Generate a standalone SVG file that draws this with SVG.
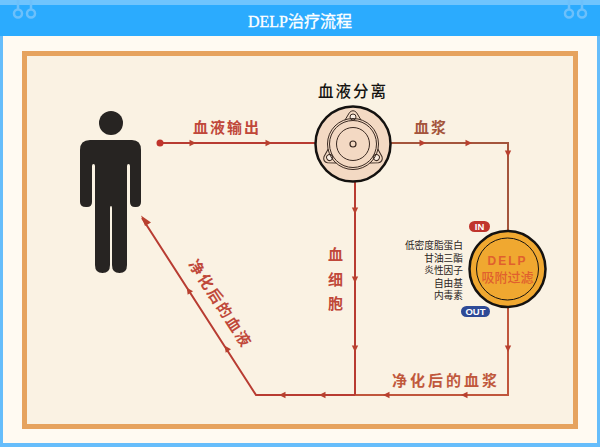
<svg xmlns="http://www.w3.org/2000/svg" width="600" height="447" viewBox="0 0 600 447">
<style>
.cn{font-family:"Noto Sans CJK SC","Noto Sans",sans-serif}
.lbl{font-size:15px;fill:#c0483a;font-weight:700;letter-spacing:2px}
.sub{font-size:9.700px;fill:#2a2422;text-anchor:end}
.line{fill:none;stroke-width:2}
.ah{fill:#b8402f}
.pin{fill:none;stroke:#6cc0fb;stroke-width:2.500}
.pill{font-size:9.500px;fill:#fff;font-family:"Liberation Sans",sans-serif;font-weight:bold;text-anchor:middle}
.dev{fill:none;stroke:#3a2a22}
</style>
<defs>
<path id="ar" d="M-4,0L2.500,-3.200L2.500,3.200Z" class="ah"/>
<g id="lobe"><path d="M-8,-24L-3.500,-31.500Q0,-35 3.500,-31.500L8,-24" fill="#f3d9c3" stroke="#3a2a22" stroke-width="1"/><circle cy="-27" r="3" fill="#fbeee2" stroke="#3a2a22" stroke-width="1"/></g>
</defs>
<rect width="600" height="447" fill="#66bdfb"/>
<rect width="600" height="5" fill="#6fc4fd"/>
<rect y="5" width="600" height="31" fill="#2babfe"/>
<rect x="3" y="36" width="594" height="407" fill="#fffaf2"/>
<g class="pin">
<path d="M18,0V10M31,0V10M569,0V10M582,0V10"/>
<circle cx="18" cy="13.500" r="4"/><circle cx="31" cy="13.500" r="4"/><circle cx="569" cy="13.500" r="4"/><circle cx="582" cy="13.500" r="4"/>
</g>
<text x="300" y="27" text-anchor="middle" fill="#fff" stroke="#fff" stroke-width="0.300" font-size="16" font-family="'Liberation Serif','Noto Sans CJK SC',serif">DELP治疗流程</text>
<rect x="24.500" y="53.500" width="551" height="373" fill="#faf2e3" stroke="#e6a35f" stroke-width="5"/>

<g id="connectors">
<path class="line" stroke="#b83c32" d="M160,143H318"/>
<path class="line" stroke="#a4553c" d="M390,143H508V231"/>
<path class="line" stroke="#c0563c" d="M508,307V395H355"/>
<path class="line" stroke="#b83c32" d="M355,395H256L142,218M355,182V395"/>
<circle cx="160" cy="143" r="3.500" fill="#c0342c"/>
<use href="#ar" transform="translate(192,143) rotate(180)"/>
<use href="#ar" transform="translate(268,143) rotate(180)"/>
<use href="#ar" transform="translate(422,143) rotate(180)"/>
<use href="#ar" transform="translate(468,143) rotate(180)"/>
<use href="#ar" transform="translate(508,153) rotate(-90)"/>
<use href="#ar" transform="translate(508,348) rotate(-90)"/>
<use href="#ar" transform="translate(355,210) rotate(-90)"/>
<use href="#ar" transform="translate(355,279) rotate(-90)"/>
<use href="#ar" transform="translate(355,348) rotate(-90)"/>
<use href="#ar" transform="translate(465,395)"/>
<use href="#ar" transform="translate(387,395)"/>
<use href="#ar" transform="translate(323,395)"/>
<use href="#ar" transform="translate(283,395)"/>
<use href="#ar" transform="translate(227,349) rotate(57)"/>
<use href="#ar" transform="translate(189,291) rotate(57)"/>
<path d="M141,215.500L151,222.500L145,226Z" class="ah"/>
</g>

<g id="person" fill="#272422">
<circle cx="111" cy="123" r="12"/>
<path d="M90,140H132Q141,140 141,150V202Q141,207 136,207H135Q130,207 130,202V166Q130,164 128.500,164Q127,164 127,166V265Q127,273 119.500,273Q112,273 112,265V208Q112,206 111,206Q110,206 110,208V265Q110,273 102.500,273Q95,273 95,265V166Q95,164 93.500,164Q92,164 92,166V202Q92,207 87,207H86Q80,207 80,202V150Q80,140 90,140Z"/>
</g>

<g id="separator">
<circle cx="353" cy="144" r="37.500" fill="#f3d9c3" stroke="#141210" stroke-width="2.500"/>
<g class="dev" stroke-width="1">
<use href="#lobe" transform="translate(353,144)"/>
<use href="#lobe" transform="translate(353,144) rotate(120)"/>
<use href="#lobe" transform="translate(353,144) rotate(240)"/>
<circle cx="353" cy="144" r="25.500"/>
<circle cx="353" cy="144" r="23.500"/>
<circle cx="353" cy="144" r="16.500"/>
<circle cx="353" cy="144" r="3" stroke-width="1.200"/>
</g>
<text class="cn" x="353" y="97" text-anchor="middle" font-size="15.500" font-weight="500" letter-spacing="2" fill="#141210">血液分离</text>
</g>

<g id="filter">
<circle cx="507.500" cy="269" r="38" fill="#f0a830" stroke="#141210" stroke-width="2.500"/>
<circle cx="507.500" cy="269" r="31" fill="none" stroke="#141210" stroke-width="1"/>
<text x="507.500" y="265" text-anchor="middle" font-size="12" font-weight="bold" letter-spacing="2" fill="#e0602e" font-family="'Liberation Sans',sans-serif">DELP</text>
<text class="cn" x="507.500" y="282" text-anchor="middle" font-size="13" font-weight="500" fill="#e0602e">吸附过滤</text>
<rect x="469" y="221" width="21" height="11" rx="5.500" fill="#c0342c"/>
<text class="pill" x="479.500" y="230">IN</text>
<rect x="461" y="306" width="29" height="11" rx="5.500" fill="#2e4a96"/>
<text class="pill" x="475.500" y="315">OUT</text>
<text class="cn sub" x="463" y="249">低密度脂蛋白</text>
<text class="cn sub" x="463" y="261.500">甘油三酯</text>
<text class="cn sub" x="463" y="274">炎性因子</text>
<text class="cn sub" x="463" y="286.500">自由基</text>
<text class="cn sub" x="463" y="299">内毒素</text>
</g>

<g id="labels">
<text class="cn lbl" x="193" y="133">血液输出</text>
<text class="cn lbl" x="414" y="133" style="fill:#a4553c">血浆</text>
<text class="cn lbl" x="336.500" y="260" text-anchor="middle" letter-spacing="0">血</text>
<text class="cn lbl" x="336.500" y="285" text-anchor="middle" letter-spacing="0">细</text>
<text class="cn lbl" x="336.500" y="309" text-anchor="middle" letter-spacing="0">胞</text>
<text class="cn lbl" x="392" y="386" style="fill:#c0583c;letter-spacing:3px">净化后的血浆</text>
<text class="cn lbl" transform="translate(220,304) rotate(57)" text-anchor="middle" y="5">净化后的血液</text>
</g>
</svg>
